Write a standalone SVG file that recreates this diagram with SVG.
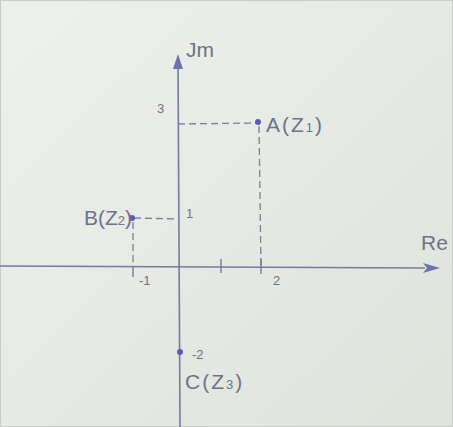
<svg xmlns="http://www.w3.org/2000/svg" width="453" height="427" viewBox="0 0 453 427">
<defs>
<linearGradient id="bg" x1="0" y1="0" x2="1" y2="1">
<stop offset="0" stop-color="#eef0ec"/>
<stop offset="1" stop-color="#dfe3dc"/>
</linearGradient>
<style>
.ax{stroke:#767a9e;stroke-width:1.6;fill:none}
.dash{stroke:#7a7e98;stroke-width:1.3;stroke-dasharray:7,4;fill:none}
.tick{stroke:#767a9e;stroke-width:1.4}
.pt{fill:#5a5cb0}
text{font-family:"Liberation Sans","DejaVu Sans",sans-serif;fill:#6e7288}
.lb{font-size:21px}
.sp{letter-spacing:2px}
.sm{font-size:13px}
</style>
</defs>
<rect x="0" y="0" width="453" height="427" fill="url(#bg)"/>
<rect x="0.5" y="0.5" width="452" height="426" fill="none" stroke="#c8ccc6"/>
<g id="connectors">
<path class="ax" d="M180,427 L178,58"/>
<path d="M178,54 L183,69 L173,69 Z" fill="#6f72b0"/>
<path class="ax" d="M0,266 L425,268"/>
<path d="M440,268 L423,263 L427,268 L423,273 Z" fill="#6f72b0"/>
<path class="dash" d="M178,124 L256,123"/>
<path class="dash" d="M259,126 L261,266"/>
<path class="dash" d="M134,218 L178,219"/>
<path class="dash" d="M133,222 L133,266"/>
<line class="tick" x1="221" y1="259" x2="221" y2="273"/>
<line class="tick" x1="261" y1="259" x2="261" y2="274"/>
<line class="tick" x1="133" y1="266" x2="133" y2="277"/>
</g>
<g id="axis-labels">
<text class="lb" x="186" y="57">Jm</text>
<text class="lb" x="421" y="250">Re</text>
<text class="sm" x="157" y="113">3</text>
<text class="sm" x="186" y="218">1</text>
<text class="sm" x="273" y="285">2</text>
<text class="sm" x="139" y="285">-1</text>
</g>
<g id="A">
<circle class="pt" cx="258" cy="122" r="3"/>
<text class="lb sp" x="266" y="132">A(Z<tspan font-size="13">1</tspan>)</text>
</g>
<g id="B">
<circle class="pt" cx="132" cy="218" r="3"/>
<text class="lb" x="84" y="225">B(Z<tspan font-size="13">2</tspan>)</text>
</g>
<g id="C">
<circle class="pt" cx="180" cy="352" r="3"/>
<text class="sm" x="192" y="359">-2</text>
<text class="lb sp" x="185" y="389">C(Z<tspan font-size="13">3</tspan>)</text>
</g>
</svg>
